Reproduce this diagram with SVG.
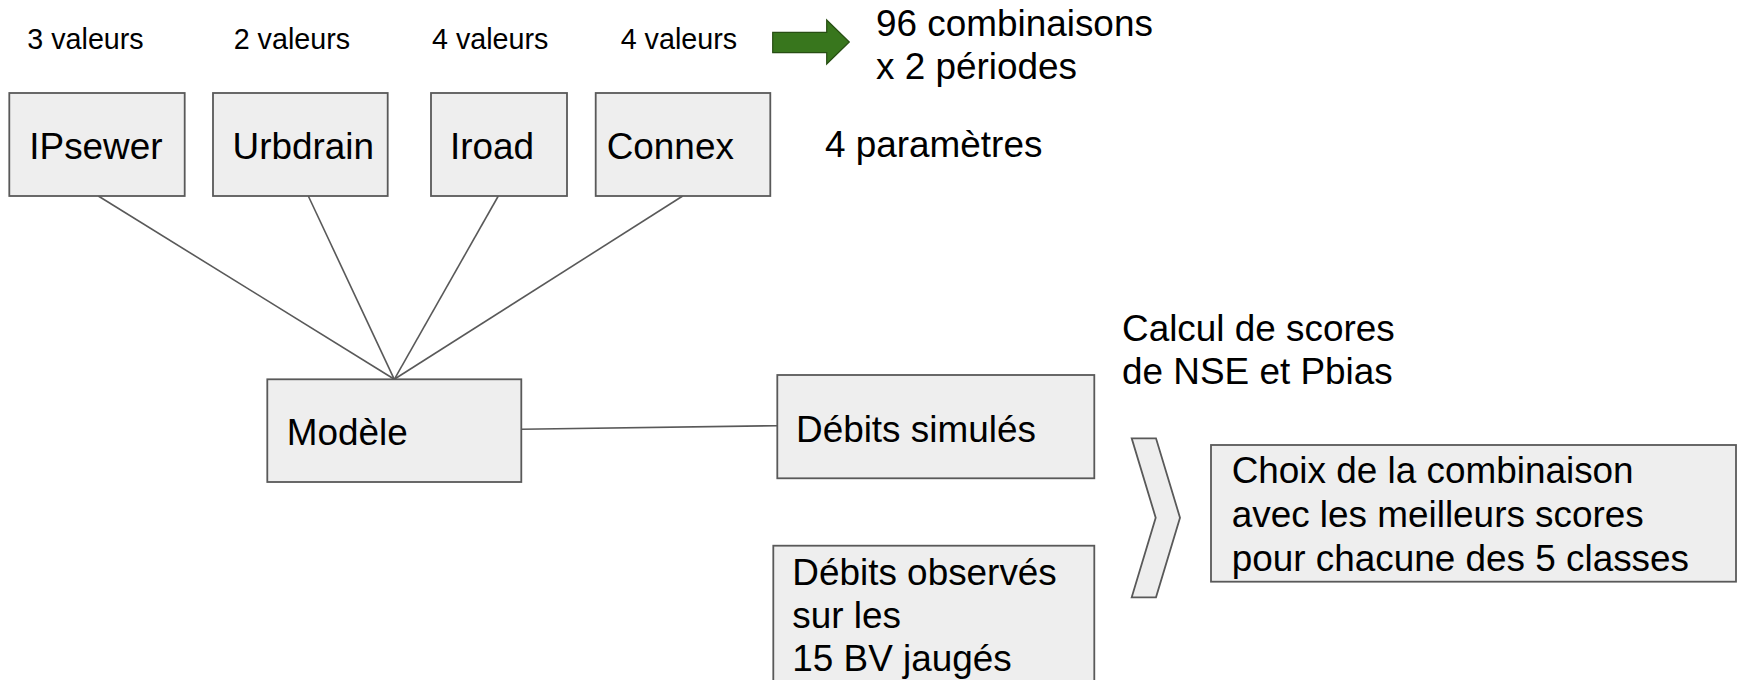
<svg xmlns="http://www.w3.org/2000/svg" width="1737" height="680" viewBox="0 0 1737 680">
<style>
  .box { fill: #eeeeee; stroke: #595959; stroke-width: 1.8; }
  .conn { stroke: #595959; stroke-width: 1.6; fill: none; }
  text { font-family: "Liberation Sans", Arial, sans-serif; fill: #000000; }
  .t18 { font-size: 36.9px; }
  .t14 { font-size: 28.7px; }
</style>
<rect width="1737" height="680" fill="#ffffff"/>
<g id="connectors">
  <line class="conn" x1="98.3" y1="196" x2="394.3" y2="379.3"/>
  <line class="conn" x1="308.3" y1="196" x2="394.3" y2="379.3"/>
  <line class="conn" x1="498.3" y1="196" x2="394.3" y2="379.3"/>
  <line class="conn" x1="682.7" y1="196" x2="394.3" y2="379.3"/>
  <line class="conn" x1="521.3" y1="429.3" x2="777.3" y2="425.7"/>
</g>
<g id="labels-valeurs">
  <text class="t14" x="27.3" y="49">3 valeurs</text>
  <text class="t14" x="233.7" y="49">2 valeurs</text>
  <text class="t14" x="432" y="49">4 valeurs</text>
  <text class="t14" x="620.7" y="49">4 valeurs</text>
</g>
<g id="arrow">
  <polygon points="772.7,32.3 826.7,32.3 826.7,20 849.3,42 826.7,64 826.7,52.7 772.7,52.7" fill="#38761d" stroke="#274e13" stroke-width="1.2"/>
</g>
<g id="combinaisons">
  <text class="t18" x="876" y="35.5">96 combinaisons</text>
  <text class="t18" x="876" y="79">x 2 périodes</text>
</g>
<g id="node-ipsewer">
  <rect class="box" x="9.3" y="93" width="175.4" height="103"/>
  <text class="t18" x="29.3" y="159">IPsewer</text>
</g>
<g id="node-urbdrain">
  <rect class="box" x="213" y="93" width="174.7" height="103"/>
  <text class="t18" x="232.6" y="159">Urbdrain</text>
</g>
<g id="node-iroad">
  <rect class="box" x="431" y="93" width="136" height="103"/>
  <text class="t18" x="450" y="159">Iroad</text>
</g>
<g id="node-connex">
  <rect class="box" x="595.7" y="93" width="174.6" height="103"/>
  <text class="t18" x="606.7" y="159">Connex</text>
</g>
<g id="parametres">
  <text class="t18" x="825" y="157">4 paramètres</text>
</g>
<g id="node-modele">
  <rect class="box" x="267.3" y="379.3" width="254" height="102.7"/>
  <text class="t18" x="286.7" y="445">Modèle</text>
</g>
<g id="node-debits-simules">
  <rect class="box" x="777.3" y="375" width="317" height="103.3"/>
  <text class="t18" x="796" y="441.7">Débits simulés</text>
</g>
<g id="calcul">
  <text class="t18" x="1122" y="341">Calcul de scores</text>
  <text class="t18" x="1122" y="384">de NSE et Pbias</text>
</g>
<g id="chevron">
  <polygon class="box" points="1131.7,438.3 1156,438.3 1180,517.7 1156,597.3 1131.7,597.3 1155.7,517.7"/>
</g>
<g id="node-debits-observes">
  <rect class="box" x="773.3" y="545.7" width="321" height="140"/>
  <text class="t18" x="792.3" y="585">Débits observés</text>
  <text class="t18" x="792.3" y="628">sur les</text>
  <text class="t18" x="792.3" y="671">15 BV jaugés</text>
</g>
<g id="node-choix">
  <rect class="box" x="1211" y="445" width="525" height="136.7"/>
  <text class="t18" x="1231.7" y="483.3">Choix de la combinaison</text>
  <text class="t18" x="1231.7" y="527">avec les meilleurs scores</text>
  <text class="t18" x="1231.7" y="570.5">pour chacune des 5 classes</text>
</g>
</svg>
